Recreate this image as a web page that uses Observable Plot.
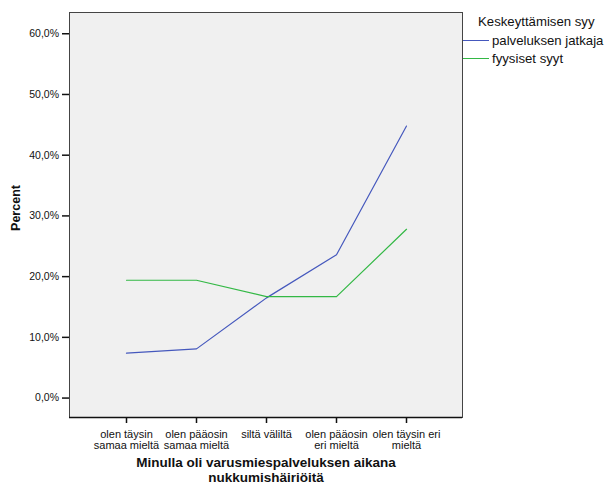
<!DOCTYPE html>
<html>
<head>
<meta charset="utf-8">
<script src="https://cdn.jsdelivr.net/npm/d3@7"></script>
<script src="https://cdn.jsdelivr.net/npm/@observablehq/plot@0.6"></script>
<style>
  body { margin: 0; background: #fff; }
  #wrap { position: relative; width: 607px; height: 486px; font-family: Arial, "Liberation Sans", sans-serif; }
  #legend { position: absolute; left: 463px; top: 12px; font-size: 13.2px; color: #111; white-space: nowrap; }
  #legend .title { margin-left: 15px; height: 19px; line-height: 19px; }
  #legend .item { display: flex; align-items: center; height: 18.5px; }
  #legend .sw { width: 26px; height: 0; border-top: 1.2px solid; margin-right: 3px; }
</style>
</head>
<body>
<div id="wrap"><div id="legend"></div></div>
<script>
const categories = ["olen täysin\nsamaa mieltä", "olen pääosin\nsamaa mieltä", "siltä väliltä", "olen pääosin\neri mieltä", "olen täysin eri\nmieltä"];
const seriesNames = ["palveluksen jatkaja", "fyysiset syyt"];
const palveluksenJatkaja = [7.4, 8.1, 16.5, 23.6, 44.8];
const fyysisetSyyt = [19.4, 19.4, 16.7, 16.7, 27.8];
const yTicks = [0, 10, 20, 30, 40, 50, 60];
const colors = ["#4558bd", "#33b845"];
const legendTitle = "Keskeyttämisen syy";
const xTitle = "Minulla oli varusmiespalveluksen aikana\nnukkumishäiriöitä";
const yTitle = "Percent";

const data = [];
[palveluksenJatkaja, fyysisetSyyt].forEach((vals, s) => {
  vals.forEach((v, i) => data.push({series: seriesNames[s], cat: categories[i], value: v}));
});

const chart = Plot.plot({
  width: 607,
  height: 486,
  marginLeft: 69,
  marginRight: 145,
  marginTop: 12,
  marginBottom: 69,
  style: {fontFamily: 'Arial, "Liberation Sans", sans-serif', fontSize: "10.5px", color: "#111", background: "#fff"},
  x: {type: "point", domain: categories, padding: 0.78},
  y: {domain: [-3.2, 63.5]},
  color: {domain: seriesNames, range: colors},
  marks: [
    Plot.frame({fill: "#f0f0f0", stroke: null}),
    Plot.line(data, {x: "cat", y: "value", z: "series", stroke: "series", strokeWidth: 1.2}),
    Plot.frame({stroke: "#444", strokeWidth: 1}),
    Plot.ruleY([-3.2], {stroke: "#111", strokeWidth: 1.6}),
    Plot.axisY({ticks: yTicks, tickSize: 7, tickPadding: 3.5, tickFormat: d => d.toFixed(1).replace(".", ",") + "%", label: null, fontSize: 10.5, stroke: "#111", strokeWidth: 1.5}),
    Plot.axisX({tickSize: 6, tickPadding: 7, label: null, fontSize: 11, lineHeight: 1.0, stroke: "#111", strokeWidth: 1.5}),
    Plot.text([xTitle], {frameAnchor: "bottom", text: d => d, dy: 39, lineAnchor: "top", fontWeight: "bold", fontSize: 13.5, lineHeight: 1.12, fill: "#111"}),
    Plot.text([yTitle], {frameAnchor: "left", text: d => d, dx: -54, dy: -7, rotate: -90, textAnchor: "middle", fontWeight: "bold", fontSize: 12.5, fill: "#111"})
  ]
});
const wrap = document.getElementById("wrap");
wrap.insertBefore(chart, wrap.firstChild);

const legend = document.getElementById("legend");
const t = document.createElement("div");
t.className = "title"; t.textContent = legendTitle;
legend.appendChild(t);
seriesNames.forEach((n, i) => {
  const it = document.createElement("div"); it.className = "item";
  const sw = document.createElement("span"); sw.className = "sw"; sw.style.borderTopColor = colors[i];
  const lb = document.createElement("span"); lb.textContent = n;
  it.appendChild(sw); it.appendChild(lb); legend.appendChild(it);
});
</script>
</body>
</html>
